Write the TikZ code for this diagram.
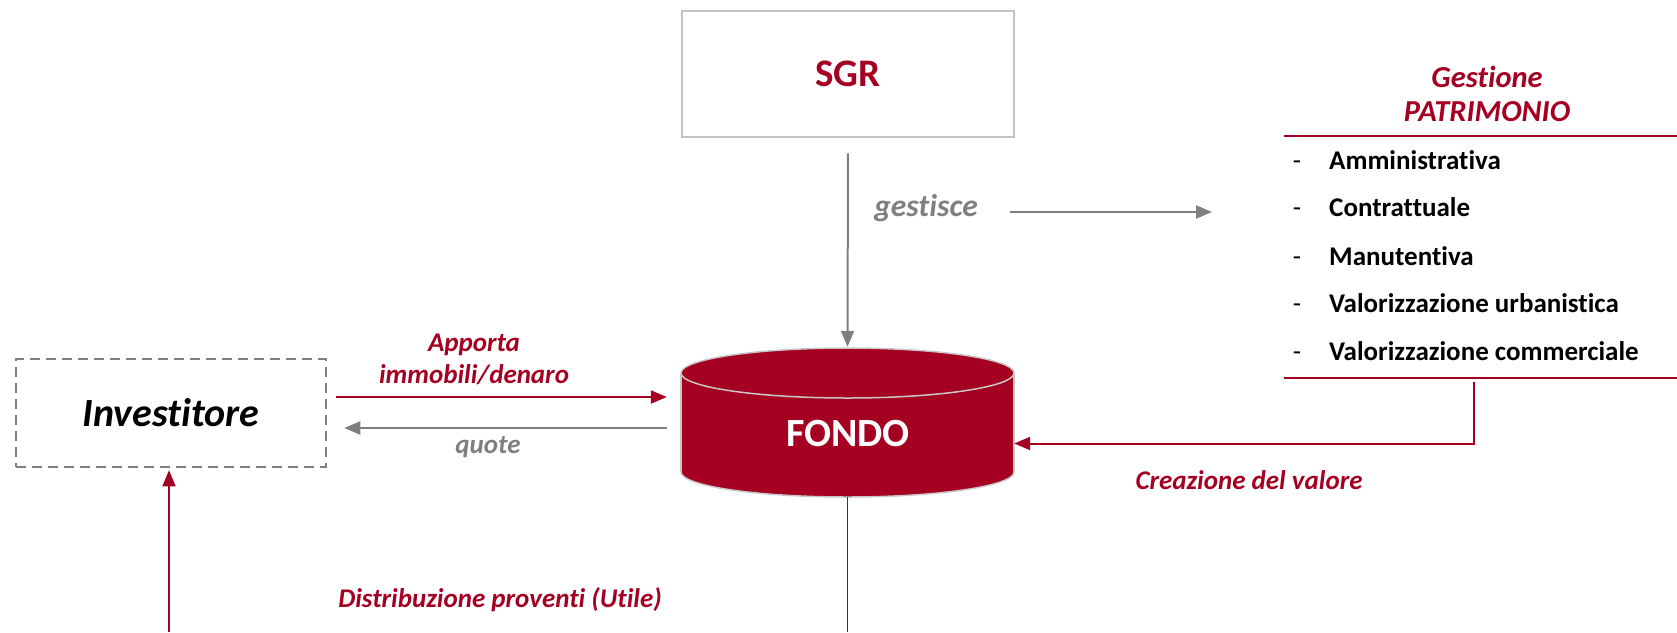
\documentclass[tikz,border=0pt]{standalone}
\usepackage{fontspec}
\setmainfont{Carlito}[Ligatures={NoCommon}]
\usetikzlibrary{arrows.meta}
\definecolor{fred}{HTML}{A50021}
\definecolor{fgray}{HTML}{7F7F7F}
\definecolor{boxgray}{HTML}{C3C3C3}
\definecolor{cylgray}{HTML}{C8C8C8}
\tikzset{
  sgrbox/.style={draw=boxgray, line width=2.5pt, minimum width=332pt, minimum height=126pt, inner sep=0pt,
    text=fred, font=\fontsize{39}{44}\selectfont\bfseries},
  invbox/.style={draw=fgray, line width=2.5pt, dash pattern=on 10pt off 6pt, minimum width=310pt, minimum height=108pt,
    inner sep=0pt, font=\fontsize{40}{46}\selectfont\bfseries\itshape},
  redlbl/.style={text=fred, inner sep=0pt, align=center, font=\fontsize{27}{32}\selectfont\bfseries\itshape},
  graylbl/.style={text=fgray, inner sep=0pt, font=\fontsize{27}{30}\selectfont\bfseries\itshape},
  itemtxt/.style={anchor=base west, inner sep=0pt, font=\fontsize{27}{30}\selectfont\bfseries},
  itemdash/.style={anchor=base, inner sep=0pt, font=\fontsize{27}{30}\selectfont},
  redarr/.style={draw=fred, line width=2pt, -{Triangle[length=16pt,width=13pt]}},
  grayarr/.style={draw=fgray, line width=2pt, -{Triangle[length=16pt,width=13pt]}},
  redline/.style={draw=fred, line width=1.3pt},
}
\begin{document}
\begin{tikzpicture}[x=1pt,y=-1pt]
\useasboundingbox (0,0) rectangle (1677,632);
\coordinate (edgeB) at (0,632);

% SGR
\node[sgrbox] (sgr) at (848,74) {SGR};

% FONDO cylinder
\node[minimum width=333pt, minimum height=149pt, inner sep=0pt] (fondo) at (847.5,422.5) {};
\fill[fred, draw=cylgray, line width=1.5pt] (847.5,472) ellipse [x radius=166.5, y radius=25];
\fill[fred] (681,373) rectangle (1014,472);
\draw[cylgray, line width=1.5pt] (681,373) -- (681,472) (1014,373) -- (1014,472);
\fill[fred, draw=cylgray, line width=1.5pt] (847.5,373) ellipse [x radius=166.5, y radius=25];
\node[text=white, inner sep=0pt, font=\fontsize{40}{46}\selectfont\bfseries] (fondolbl) at (848,434) {FONDO};

% Investitore
\node[invbox] (inv) at (171,413) {Investitore};

% Panel
\node[minimum width=393pt, minimum height=242pt, inner sep=0pt] (panel) at (1480.5,257) {};
\draw[fred, line width=1.5pt] (panel.north west) -- (panel.north east);
\draw[fred, line width=1.5pt] (panel.south west) -- (panel.south east);
\node[redlbl, font=\fontsize{30.5}{34}\selectfont\bfseries\itshape] (gest) at (1487,94) {Gestione\\PATRIMONIO};
\foreach \y/\t [count=\i] in {169/Amministrativa,216/Contrattuale,265/Manutentiva,312/Valorizzazione urbanistica,360/Valorizzazione commerciale}{
  \node[itemtxt] (it\i) at (1329,\y) {\t};
  \node[itemdash] (d\i) at (1297,0 |- it\i.base) {-};
}

% gestisce
\node[graylbl, font=\fontsize{31.5}{36}\selectfont\bfseries\itshape] (gestisce) at (926,208) {gestisce};
\coordinate (gA) at (1010,212);
\coordinate (gB) at (1212,212);
\draw[grayarr] (gA) -- (gB);

% SGR -> FONDO
\draw[grayarr, shorten <=15pt, shorten >=1pt] (sgr.south) -- (fondo.north);

% Investitore <-> FONDO
\draw[redarr, shorten <=9pt, shorten >=14pt] ([yshift=16pt]inv.east) -- ([yshift=16pt]inv.east -| fondo.west);
\draw[grayarr, shorten <=14pt, shorten >=17pt] ([yshift=-15pt]inv.east -| fondo.west) -- ([yshift=-15pt]inv.east);
\node[redlbl] (apporta) at (474,359) {Apporta\\immobili/denaro};
\node[graylbl] (quote) at (488,447) {quote};

% Creazione del valore
\coordinate (cv) at (1474,382);
\draw[redarr] (cv) |- ([yshift=-21pt]fondo.east);
\node[redlbl] (creaz) at (1249,480) {Creazione del valore};

% Distribuzione
\draw[redline] (fondo.south) -- (fondo.south |- edgeB);
\draw[redline, -{Triangle[length=16pt,width=13pt]}, shorten >=2pt] ([xshift=-2pt]inv.south |- edgeB) -- ([xshift=-2pt]inv.south);
\node[redlbl] (distr) at (500,600) {Distribuzione proventi (Utile)};
\end{tikzpicture}
\end{document}
